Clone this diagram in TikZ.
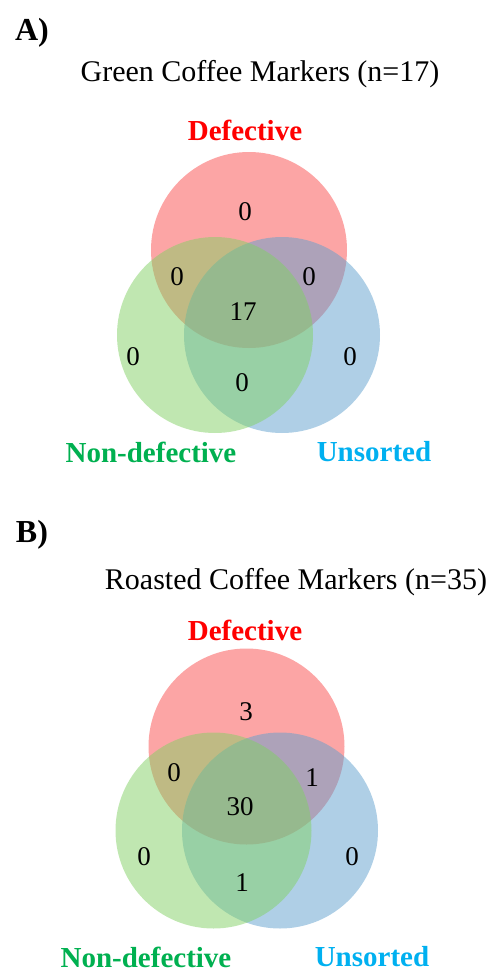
\documentclass[tikz,border=0pt]{standalone}
\usepackage{fontspec}
\setmainfont{Liberation Serif}
\definecolor{cred}{RGB}{250,76,76}
\definecolor{cgreen}{RGB}{130,208,100}
\definecolor{cblue}{RGB}{95,160,205}
\definecolor{lred}{RGB}{255,0,0}
\definecolor{lgreen}{RGB}{0,176,80}
\definecolor{lblue}{RGB}{0,176,240}
\begin{document}
\begin{tikzpicture}[x=1pt,y=-1pt,
  vset/.style={circle, draw=none, minimum size=196pt, inner sep=0pt, fill opacity=0.5},
  num/.style={font=\fontsize{27}{27}\selectfont, text=black, inner sep=0pt},
  setlab/.style={font=\fontsize{29}{29}\selectfont\bfseries, inner sep=0pt},
  ttl/.style={font=\fontsize{30}{30}\selectfont, inner sep=0pt},
  panel/.style={font=\fontsize{32}{32}\selectfont\bfseries, inner sep=0pt}]
\useasboundingbox (0,0) rectangle (496,972);
% ---------- Panel A ----------
\node[panel] (pa) at (32,33) {A)};
\node[ttl] (ta) at (260,74) {Green Coffee Markers (n=17)};
\node[vset, fill=cred]   (ad) at (249,250) {};
\node[vset, fill=cblue]  (au) at (282,335) {};
\node[vset, fill=cgreen] (an) at (215,335) {};
\node[setlab, text=lred]   (ald) at (245,130) {Defective};
\node[setlab, text=lgreen] (aln) at (151,452) {Non-defective};
\node[setlab, text=lblue]  (alu) at (374,452) {Unsorted};
\node[num] (a1) at (245,212) {0};
\node[num] (a2) at (177,277) {0};
\node[num] (a3) at (309,277) {0};
\node[num] (a4) at (243,312) {17};
\node[num] (a5) at (133,357) {0};
\node[num] (a6) at (350,357) {0};
\node[num] (a7) at (242,383) {0};
% ---------- Panel B ----------
\node[panel] (pb) at (32,535) {B)};
\node[ttl] (tb) at (296,582) {Roasted Coffee Markers (n=35)};
\node[vset, fill=cred]   (bd) at (246.5,746.5) {};
\node[vset, fill=cblue]  (bu) at (280,830.5) {};
\node[vset, fill=cgreen] (bn) at (213.5,830.5) {};
\node[setlab, text=lred]   (bld) at (245,630) {Defective};
\node[setlab, text=lgreen] (bln) at (146,957) {Non-defective};
\node[setlab, text=lblue]  (blu) at (372,957) {Unsorted};
\node[num] (b1) at (246,712) {3};
\node[num] (b2) at (174,773) {0};
\node[num] (b3) at (312,778) {1};
\node[num] (b4) at (240,807) {30};
\node[num] (b5) at (144,857) {0};
\node[num] (b6) at (352,857) {0};
\node[num] (b7) at (242,883) {1};
\end{tikzpicture}
\end{document}
